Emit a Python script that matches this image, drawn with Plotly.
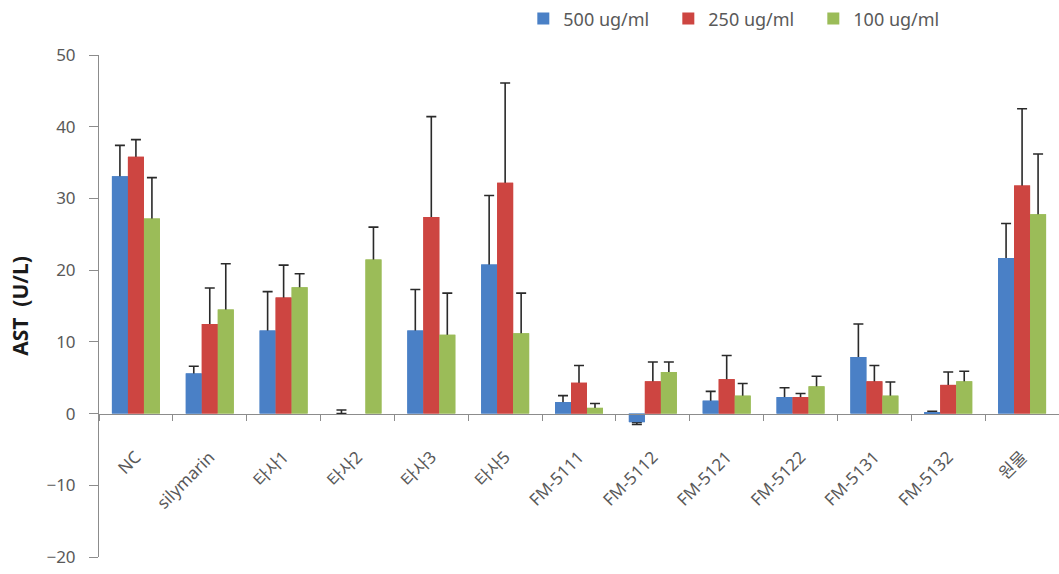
import plotly.graph_objects as go

# Sample groups on the x axis
categories = ["NC", "silymarin", "타사1", "타사2", "타사3", "타사5",
              "FM-5111", "FM-5112", "FM-5121", "FM-5122", "FM-5131", "FM-5132", "원물"]

# Mean AST (U/L) per concentration (None: not measured)
ast_500 = [33.1, 5.6, 11.6, 0.0, 11.6, 20.8, 1.6, -1.2, 1.8, 2.3, 7.9, 0.1, 21.7]
ast_250 = [35.8, 12.5, 16.2, None, 27.4, 32.2, 4.3, 4.5, 4.8, 2.3, 4.5, 4.0, 31.8]
ast_100 = [27.2, 14.5, 17.6, 21.5, 11.0, 11.2, 0.8, 5.8, 2.5, 3.8, 2.5, 4.5, 27.8]

# Upper standard deviation per concentration
sd_500 = [4.3, 1.0, 5.4, 0.5, 5.7, 9.6, 0.9, 0.0, 1.3, 1.3, 4.6, 0.2, 4.8]
sd_250 = [2.4, 5.0, 4.5, 0.0, 14.0, 13.9, 2.4, 2.7, 3.3, 0.5, 2.2, 1.8, 10.7]
sd_100 = [5.7, 6.4, 1.9, 4.5, 5.8, 5.6, 0.6, 1.4, 1.7, 1.4, 1.9, 1.4, 8.4]
# Lower deviation (only the negative FM-5112 mean extends downward)
sd_500_minus = [0, 0, 0, 0, 0, 0, 0, 0.3, 0, 0, 0, 0, 0]
no_minus = [0] * len(categories)

series = [
    ("500 ug/ml", ast_500, sd_500, sd_500_minus, "#4A80C6"),
    ("250 ug/ml", ast_250, sd_250, no_minus, "#CD4541"),
    ("100 ug/ml", ast_100, sd_100, no_minus, "#9BBC58"),
]


def lower_arm(vals, minus):
    # Tuck the lower end of each error bar just inside its bar, where the
    # overlay bar hides it, so only the upper arm shows.
    return [max(m, 0.3 if (v is not None and v > 0.5) else 0)
            for v, m in zip(vals, minus)]


fig = go.Figure()

# Bars with their error bars
for i, (name, vals, plus, minus, color) in enumerate(series):
    fig.add_trace(go.Bar(
        x=categories, y=vals, name=name, offsetgroup=str(i),
        marker=dict(color=color, line=dict(width=0)),
        error_y=dict(type="data", symmetric=False, array=plus,
                     arrayminus=lower_arm(vals, minus),
                     color="#2a2a2a", thickness=1.6, width=5),
    ))

# Same bars again on top, so each error bar starts cleanly at the bar end
for i, (name, vals, plus, minus, color) in enumerate(series):
    fig.add_trace(go.Bar(
        x=categories, y=vals, name=name, offsetgroup=str(i),
        marker=dict(color=color, line=dict(width=0)),
        showlegend=False, hoverinfo="skip",
    ))

font_family = "Noto Sans, Noto Sans CJK KR, sans-serif"
label_color = "#595959"

fig.update_layout(
    width=1059, height=574,
    margin=dict(l=99, r=0, t=55, b=17),
    paper_bgcolor="white", plot_bgcolor="white",
    barmode="group", bargap=0.35, bargroupgap=0,
    font=dict(family=font_family, size=17, color=label_color),
    legend=dict(
        orientation="h", x=0.442, y=1.072, xanchor="left", yanchor="middle",
        font=dict(size=18, color=label_color), entrywidth=100,
        bgcolor="rgba(0,0,0,0)", traceorder="normal",
    ),
    xaxis=dict(
        type="category", categoryorder="array", categoryarray=categories,
        anchor="free", position=20 / 70,
        showline=True, linecolor="#8c8c8c", linewidth=1,
        ticks="outside", tickson="boundaries", ticklen=6, tickcolor="#8c8c8c",
        tickangle=-45, ticklabelstandoff=26,
        tickfont=dict(size=17, color=label_color),
        showgrid=False, zeroline=False,
    ),
    yaxis=dict(
        range=[-20, 50], dtick=10, tick0=0,
        showline=True, linecolor="#8c8c8c", linewidth=1,
        ticks="outside", ticklen=9, tickcolor="#8c8c8c", ticklabelstandoff=10,
        tickfont=dict(size=17, color=label_color),
        showgrid=False, zeroline=False,
        title=dict(text="AST  (U/L)", standoff=12,
                   font=dict(size=21, color="#1a1a1a", family=font_family, weight="bold")),
    ),
)

fig.write_html("out.html")
